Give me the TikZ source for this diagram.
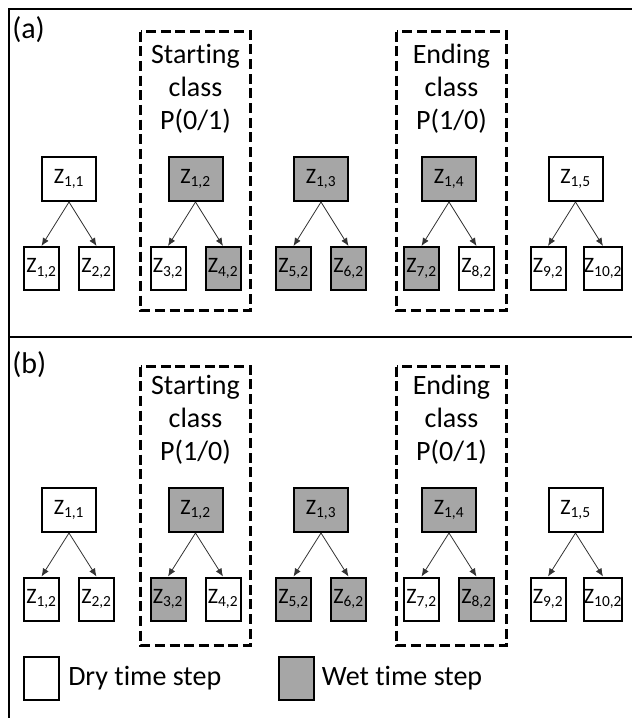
\documentclass[tikz,border=0pt]{standalone}
\usepackage{fontspec}
\setmainfont{Carlito}[Ligatures=NoCommon]
\usetikzlibrary{arrows.meta,positioning,calc}

\definecolor{wetgray}{RGB}{166,166,166}

\begin{document}
\begin{tikzpicture}[
    x = 0.75pt, y = -0.75pt,
    frame/.style = {line width=1.5pt},
    panel/.style = {anchor=base west, inner sep=0pt, font=\fontsize{22.5}{24}\selectfont},
    topbox/.style = {rectangle, draw, line width=1.5pt, inner sep=0pt, minimum width=40.5pt, minimum height=33pt, font=\fontsize{16.5}{18}\selectfont},
    leafbox/.style = {rectangle, draw, line width=1.5pt, inner sep=0pt, minimum width=26.25pt, minimum height=32.25pt, font=\fontsize{16.5}{18}\selectfont},
    classbox/.style = {line width=2.25pt, dash pattern=on 7.5pt off 3.5pt},
    classtext/.style = {anchor=base, align=center, inner sep=0pt, font=\fontsize{21}{24.4}\selectfont},
    legend/.style = {inner sep=0pt, font=\fontsize{21}{24}\selectfont},
    link/.style = {-{Latex[length=6pt,width=5pt]}, line width=0.6pt, draw=black!80}
]
    \useasboundingbox (0,0) rectangle (632,718);

    % Frame
    \draw[frame] (632,9) -- (8.5,9) -- (8.5,718);
    \draw[frame] (8.5,337) -- (632,337);

    % Panel (a)
    \node[panel] (la) at (12,38) {(a)};
    \draw[classbox] (140.5,31.5) rectangle (250.5,310.5);
    \draw[classbox] (396.5,31.5) rectangle (506.5,310.5);
    \node[classtext] (sa) at (195.5,129) {Starting\\class\\P(0/1)};
    \node[classtext] (ea) at (451.5,129) {Ending\\class\\P(1/0)};

    \foreach \g/\x/\ft/\fl/\fr in {1/69/white/white/white, 2/195.5/wetgray/white/wetgray,
        3/321/wetgray/wetgray/wetgray, 4/449/wetgray/wetgray/white, 5/575.5/white/white/white}{
        \pgfmathtruncatemacro{\l}{2*\g-1}
        \pgfmathtruncatemacro{\r}{2*\g}
        \node[topbox, fill=\ft] (at\g) at (\x,179) {Z\textsubscript{1,\g}};
        \node[leafbox, fill=\fl] (al\g) at (\x-27.5,268.5) {Z\textsubscript{\l,2}};
        \node[leafbox, fill=\fr] (ar\g) at (\x+27.5,268.5) {Z\textsubscript{\r,2}};
        \draw[link] (at\g.south) -- (al\g.north);
        \draw[link] (at\g.south) -- (ar\g.north);
    }

    % Panel (b)
    \node[panel] (lb) at (12,373) {(b)};
    \draw[classbox] (140.5,366.5) rectangle (250.5,645.5);
    \draw[classbox] (396.5,366.5) rectangle (506.5,645.5);
    \node[classtext] (sb) at (195.5,460) {Starting\\class\\P(1/0)};
    \node[classtext] (eb) at (451.5,460) {Ending\\class\\P(0/1)};

    \foreach \g/\x/\ft/\fl/\fr in {1/69/white/white/white, 2/195.5/wetgray/wetgray/white,
        3/321/wetgray/wetgray/wetgray, 4/449/wetgray/white/wetgray, 5/575.5/white/white/white}{
        \pgfmathtruncatemacro{\l}{2*\g-1}
        \pgfmathtruncatemacro{\r}{2*\g}
        \node[topbox, fill=\ft] (bt\g) at (\x,510) {Z\textsubscript{1,\g}};
        \node[leafbox, fill=\fl] (bl\g) at (\x-27.5,599) {Z\textsubscript{\l,2}};
        \node[leafbox, fill=\fr] (br\g) at (\x+27.5,599) {Z\textsubscript{\r,2}};
        \draw[link] (bt\g.south) -- (bl\g.north);
        \draw[link] (bt\g.south) -- (br\g.north);
    }

    % Legend
    \node[leafbox, fill=white] (dry) at (41.5,678.5) {};
    \node[legend, right=6pt of dry] (drytext) {Dry time step};
    \node[leafbox, fill=wetgray] (wet) at (296.5,678.5) {};
    \node[legend, right=5pt of wet] (wettext) {Wet time step};

\end{tikzpicture}
\end{document}
